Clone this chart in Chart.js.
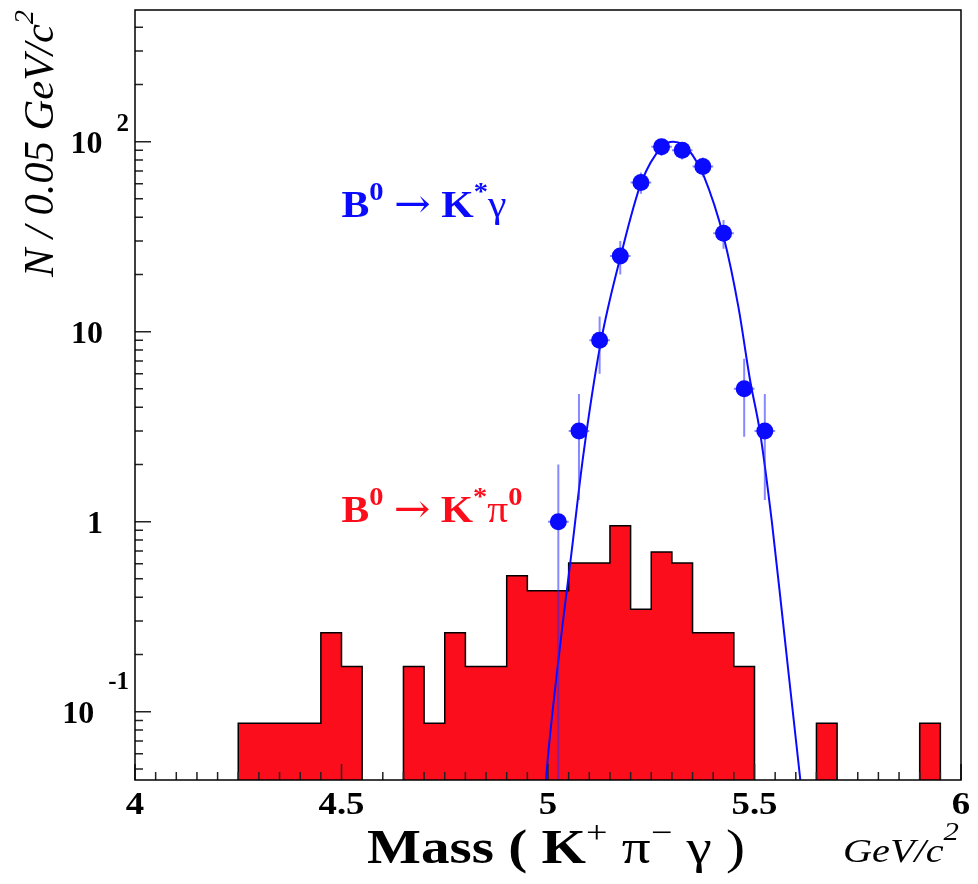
<!DOCTYPE html>
<html>
<head>
<meta charset="utf-8">
<script src="https://cdn.jsdelivr.net/npm/chart.js@4/dist/chart.umd.min.js"></script>
<style>
  body { margin: 0; background: #fff; }
  #wrap { width: 978px; height: 884px; }
</style>
</head>
<body>
<div id="wrap"><canvas id="c" width="978" height="884"></canvas></div>
<script>
// left edges of the 0.05 GeV/c^2 bins
const binLo = [4.00, 4.05, 4.10, 4.15, 4.20, 4.25, 4.30, 4.35, 4.40, 4.45,
               4.50, 4.55, 4.60, 4.65, 4.70, 4.75, 4.80, 4.85, 4.90, 4.95,
               5.00, 5.05, 5.10, 5.15, 5.20, 5.25, 5.30, 5.35, 5.40, 5.45,
               5.50, 5.55, 5.60, 5.65, 5.70, 5.75, 5.80, 5.85, 5.90, 5.95];
const binHi = 6.00;
// B0 -> K* pi0 background (weighted MC)
const piVals = [0, 0, 0, 0, 0, 0.087, 0.087, 0.087, 0.087, 0.26,
                0.173, 0, 0, 0.173, 0.087, 0.26, 0.173, 0.173, 0.52, 0.433,
                0.433, 0.606, 0.606, 0.953, 0.346, 0.693, 0.606, 0.26, 0.26, 0.173,
                0, 0, 0, 0.087, 0, 0, 0, 0, 0.087, 0];

// B0 -> K* gamma signal points
const gamMass = [5.025, 5.075, 5.125, 5.175, 5.225, 5.275, 5.325, 5.375, 5.425, 5.475, 5.525];
const gamN = [1, 3, 9, 25, 61, 94, 90, 74, 33, 5, 3];
const gamErr = [1, 1.7, 3, 5, 7.8, 9.7, 9.5, 8.6, 5.7, 2.2, 1.7];
const halfBin = 0.025;

// fitted curve
const fitMass = [4.99, 4.995, 5.028, 5.056, 5.085, 5.127, 5.178, 5.226, 5.276, 5.303,
                 5.325, 5.35, 5.376, 5.426, 5.461, 5.489, 5.514, 5.542, 5.566, 5.611, 5.62];
const fitVal = [0.03, 0.0437, 0.21, 0.66, 2.2, 8.6, 26, 61, 94, 100,
                97, 85, 67, 31, 13.5, 5.6, 2.9, 1.0, 0.34, 0.0437, 0.03];

// axes
const xMin = 4, xMax = 6;
const yMin = 0.0437, yMax = 493;
const xTickVals = [4, 4.5, 5, 5.5, 6];
const xTickLabels = ['4', '4.5', '5', '5.5', '6'];
const yTickVals = [0.1, 1, 10, 100];
const yTickBase = ['10', '1', '10', '10'];
const yTickExp = ['-1', '', '', '2'];

const RED = '#fc0d1b';
const BLUE = '#0a0aff';
const SERIF = '"Liberation Serif", "Times New Roman", serif';
const FLOOR = yMin / 3;

const histPts = binLo.map((x, i) => ({ x, y: piVals[i] > 0 ? piVals[i] : FLOOR }));
histPts.push({ x: binHi, y: FLOOR });

function richWidth(ctx, parts) {
  let w = 0;
  for (const p of parts) { ctx.font = p.f; w += ctx.measureText(p.t).width; }
  return w;
}

// draws a run of text pieces (sub/superscripts) starting at x,y, stretched to width if given
function drawRich(ctx, x, y, parts, width, rot) {
  ctx.save();
  ctx.translate(x, y);
  if (rot) ctx.rotate(rot);
  if (width) ctx.scale(width / richWidth(ctx, parts), 1);
  ctx.textAlign = 'left';
  ctx.textBaseline = 'alphabetic';
  let cx = 0;
  for (const p of parts) {
    ctx.font = p.f;
    ctx.fillStyle = p.c || '#000';
    ctx.fillText(p.t, cx, p.dy || 0);
    cx += ctx.measureText(p.t).width;
  }
  ctx.restore();
}

const rootFrame = {
  id: 'rootFrame',
  beforeDatasetDraw(chart, args) {
    if (args.index !== 2) return;
    const { ctx, scales: { x, y }, chartArea: a } = chart;
    ctx.save();
    ctx.beginPath();
    ctx.rect(a.left, a.top, a.right - a.left, a.bottom - a.top);
    ctx.clip();
    ctx.strokeStyle = 'rgba(40,40,255,0.55)';
    ctx.lineWidth = 2;
    gamMass.forEach((m, i) => {
      const px = x.getPixelForValue(m);
      const lo = gamN[i] - gamErr[i];
      const yLo = lo > 0 ? y.getPixelForValue(lo) : a.bottom;
      const yHi = y.getPixelForValue(gamN[i] + gamErr[i]);
      const py = y.getPixelForValue(gamN[i]);
      ctx.beginPath();
      ctx.moveTo(px, yLo); ctx.lineTo(px, yHi);
      ctx.moveTo(x.getPixelForValue(m - halfBin), py);
      ctx.lineTo(x.getPixelForValue(m + halfBin), py);
      ctx.stroke();
    });
    ctx.restore();
  },
  afterDatasetsDraw(chart) {
    const { ctx, scales: { x, y }, chartArea: a } = chart;
    ctx.save();
    ctx.strokeStyle = '#222';
    ctx.lineWidth = 1.5;
    ctx.beginPath();
    // x ticks every 0.05, longer every 0.5
    for (let k = 0; k <= 40; k++) {
      const v = xMin + k * 0.05;
      const px = x.getPixelForValue(v);
      const len = k % 10 === 0 ? 16 : 8;
      ctx.moveTo(px, a.bottom); ctx.lineTo(px, a.bottom - len);
    }
    // log y ticks
    for (let p = -2; p <= 2; p++) {
      for (let m = 1; m <= 9; m++) {
        const v = m * Math.pow(10, p);
        if (v < yMin || v > yMax) continue;
        const py = y.getPixelForValue(v);
        const len = m === 1 ? 16 : 8;
        ctx.moveTo(a.left, py); ctx.lineTo(a.left + len, py);
      }
    }
    ctx.stroke();
    ctx.strokeStyle = '#000';
    ctx.strokeRect(a.left, a.top, a.right - a.left, a.bottom - a.top);
    ctx.restore();
  },
  afterDraw(chart) {
    const { ctx, scales: { x, y } } = chart;
    ctx.save();
    ctx.fillStyle = '#000';
    // x tick labels
    ctx.font = 'bold 32px ' + SERIF;
    ctx.textBaseline = 'alphabetic';
    ctx.textAlign = 'center';
    xTickVals.forEach((v, i) => {
      ctx.save();
      ctx.translate(x.getPixelForValue(v), 814);
      ctx.scale(1.15, 1);
      ctx.fillText(xTickLabels[i], 0, 0);
      ctx.restore();
    });
    // y tick labels
    const expDy = { '2': -17, '-1': -29 };
    yTickVals.forEach((v, i) => {
      const py = y.getPixelForValue(v);
      ctx.textBaseline = 'middle';
      let right = 103;
      if (yTickExp[i]) {
        ctx.font = 'bold 25px ' + SERIF;
        ctx.textAlign = 'right';
        ctx.fillText(yTickExp[i], 129, py + expDy[yTickExp[i]]);
        right = 129 - ctx.measureText(yTickExp[i]).width - 14;
      }
      ctx.font = 'bold 32px ' + SERIF;
      ctx.textAlign = 'right';
      ctx.fillText(yTickBase[i], right, py + 3);
    });
    ctx.restore();

    const b38 = 'bold 38px ' + SERIF, r38 = '38px ' + SERIF, b26 = 'bold 26px ' + SERIF;
    const arrow = '40px "DejaVu Serif", serif';
    drawRich(ctx, x.getPixelForValue(4.5), y.getPixelForValue(40), [
      { t: 'B', f: b38, c: BLUE }, { t: '0', f: b26, c: BLUE, dy: -17 },
      { t: ' ', f: r38 }, { t: '\u2192', f: arrow, c: BLUE }, { t: ' ', f: r38 },
      { t: 'K', f: b38, c: BLUE },
      { t: '*', f: b26, c: BLUE, dy: -17 }, { t: '\u03b3', f: r38, c: BLUE }
    ], 165);
    drawRich(ctx, x.getPixelForValue(4.5), y.getPixelForValue(1.0), [
      { t: 'B', f: b38, c: RED }, { t: '0', f: b26, c: RED, dy: -17 },
      { t: ' ', f: r38 }, { t: '\u2192', f: arrow, c: RED }, { t: ' ', f: r38 },
      { t: 'K', f: b38, c: RED },
      { t: '*', f: b26, c: RED, dy: -17 }, { t: '\u03c0', f: r38, c: RED },
      { t: '0', f: b26, c: RED, dy: -17 }
    ], 181);

    // axis titles
    const b48 = 'bold 48px ' + SERIF, r48 = '48px ' + SERIF, r32 = '32px ' + SERIF;
    drawRich(ctx, 367, 863, [
      { t: 'Mass ( K', f: b48 }, { t: '+', f: r32, dy: -20 },
      { t: ' \u03c0', f: r48 }, { t: '\u2212', f: r32, dy: -20 },
      { t: ' \u03b3 )', f: r48 }
    ], 378);
    const i34 = 'italic 34px ' + SERIF, i26 = 'italic 26px ' + SERIF;
    drawRich(ctx, 843, 862, [
      { t: 'GeV/c', f: i34 }, { t: '2', f: i26, dy: -22 }
    ], 116);
    const i42 = 'italic 42px ' + SERIF, i28 = 'italic 28px ' + SERIF;
    drawRich(ctx, 53, 277, [
      { t: 'N / 0.05 GeV/c', f: i42 }, { t: '2', f: i28, dy: -20 }
    ], 267, -Math.PI / 2);
  }
};

new Chart(document.getElementById('c'), {
  type: 'line',
  data: {
    datasets: [
      {
        label: 'B0 -> K* pi0',
        data: histPts,
        stepped: true,
        fill: 'start',
        backgroundColor: RED,
        borderColor: '#000',
        borderWidth: 1.5,
        pointRadius: 0,
        order: 3
      },
      {
        label: 'fit',
        data: fitMass.map((m, i) => ({ x: m, y: fitVal[i] })),
        borderColor: BLUE,
        borderWidth: 2,
        pointRadius: 0,
        cubicInterpolationMode: 'monotone',
        fill: false,
        order: 2
      },
      {
        label: 'B0 -> K* gamma',
        data: gamMass.map((m, i) => ({ x: m, y: gamN[i] })),
        showLine: false,
        pointRadius: 8.5,
        pointBackgroundColor: BLUE,
        pointBorderWidth: 0,
        order: 1
      }
    ]
  },
  options: {
    responsive: false,
    animation: false,
    layout: { padding: { left: 135, right: 17, top: 10, bottom: 104 } },
    plugins: { legend: { display: false }, tooltip: { enabled: false } },
    scales: {
      x: { type: 'linear', min: xMin, max: xMax, display: false },
      y: { type: 'logarithmic', min: yMin, max: yMax, display: false }
    }
  },
  plugins: [rootFrame]
});
</script>
</body>
</html>
